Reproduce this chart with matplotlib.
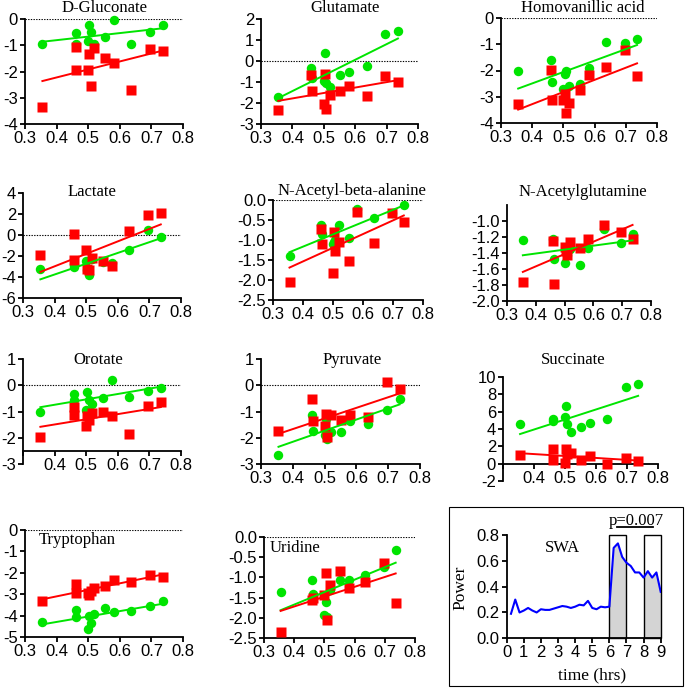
import numpy as np
import matplotlib
matplotlib.use('Agg')
import matplotlib.pyplot as plt
from matplotlib.patches import Rectangle

plt.rcParams['font.family'] = 'Liberation Sans'
plt.rcParams['axes.unicode_minus'] = False

W, H = 685, 688
GREEN = '#00e400'
RED = '#ff0000'
SERIF = 'Liberation Serif'

# x values shared by every metabolite panel
ratio = [0.355, 0.460, 0.462, 0.500, 0.504, 0.508, 0.519, 0.553, 0.581, 0.636, 0.696, 0.736]

glucon_green = [-0.95, -0.54, -0.97, -0.84, -0.23, -0.50, -0.95, -0.68, -0.04, -0.95, -0.50, -0.22]
glucon_red = [-3.36, -1.06, -1.95, -1.95, -1.34, -2.57, -1.09, -1.47, -1.66, -2.69, -1.16, -1.21]

glut_green = [-1.70, -0.35, -0.80, -0.95, 0.37, -1.06, -1.25, -0.68, -0.52, -0.22, 1.27, 1.44]
glut_red = [-2.33, -0.67, -1.43, -2.05, -0.62, -2.30, -1.62, -1.43, -1.17, -1.65, -0.71, -0.98]

homov_green = [-2.00, -1.59, -2.43, -2.69, -2.12, -2.00, -2.58, -2.51, -1.89, -0.90, -0.95, -0.80]
homov_red = [-3.29, -1.97, -3.14, -3.11, -2.90, -3.62, -3.24, -2.74, -2.17, -1.88, -1.21, -2.20]

lact_green = [-3.28, -3.09, -2.90, -2.46, -3.30, -3.80, -2.30, -2.55, -2.70, -1.42, 0.44, -0.22]
lact_red = [-1.95, 0.13, -2.39, -1.45, -3.28, -3.30, -2.18, -2.43, -2.93, 0.35, 1.86, 2.08]

naba_green = [-1.41, -0.62, -0.85, -1.10, -1.04, -1.00, -0.62, -0.96, -0.23, -0.46, -0.33, -0.125]
naba_red = [-2.05, -0.73, -1.10, -1.83, -0.79, -1.28, -1.04, -1.52, -0.29, -1.08, -0.33, -0.54]

nagl_green = [-1.24, -1.22, -1.48, -1.53, -1.38, -1.42, -1.35, -1.55, -1.34, -1.10, -1.27, -1.16]
nagl_red = [-1.76, -1.25, -1.79, -1.33, -1.37, -1.42, -1.26, -1.34, -1.23, -1.05, -1.14, -1.23]

orot_green = [-1.00, -0.34, -0.55, -0.94, -0.27, -0.56, -0.72, -0.49, 0.21, -0.43, -0.22, -0.10]
orot_red = [-1.99, -0.82, -1.15, -1.57, -1.19, -1.32, -1.05, -1.03, -1.18, -1.86, -0.78, -0.62]

pyr_green = [-2.67, -1.15, -1.75, -1.88, -1.30, -2.03, -1.78, -1.77, -1.37, -1.46, -0.93, -0.51]
pyr_red = [-1.76, -0.51, -1.37, -1.57, -1.08, -1.96, -1.15, -1.34, -1.15, -1.21, 0.13, -0.15]

succ_green = [4.53, 5.16, 4.90, 5.43, 6.70, 4.53, 3.68, 4.26, 4.65, 5.20, 8.80, 9.22]
succ_red = [0.97, 1.67, 0.39, 0.08, 1.74, 1.09, 1.24, 0.39, 0.89, -0.04, 0.70, 0.35]

tryp_green = [-4.32, -3.74, -4.08, -4.64, -4.00, -4.36, -3.94, -3.65, -3.85, -3.80, -3.54, -3.31]
tryp_red = [-3.34, -2.50, -2.95, -2.95, -3.03, -2.84, -2.69, -2.64, -2.33, -2.44, -2.11, -2.19]

urid_green = [-1.36, -1.07, -1.41, -1.94, -1.60, -1.97, -1.32, -1.07, -1.07, -0.93, -0.75, -0.31]
urid_red = [-2.34, -1.57, -1.50, -1.43, -0.89, -2.05, -1.20, -0.83, -1.26, -1.12, -0.65, -1.64]

# SWA power trace
swa_time = [0.25, 0.5, 0.75, 1.0, 1.25, 1.5, 1.75, 2.0, 2.25, 2.5, 2.75, 3.0,
             3.25, 3.5, 3.75, 4.0, 4.25, 4.5, 4.75, 5.0, 5.25, 5.5, 5.75, 6.0,
             6.25, 6.5, 6.75, 7.0, 7.25, 7.5, 7.75, 8.0, 8.25, 8.5, 8.75, 9.0]
swa_power = [0.19, 0.30, 0.20, 0.215, 0.235, 0.215, 0.20, 0.225, 0.22, 0.22, 0.23, 0.24,
             0.25, 0.245, 0.235, 0.245, 0.26, 0.255, 0.29, 0.235, 0.225, 0.245, 0.24, 0.245,
             0.70, 0.735, 0.63, 0.585, 0.56, 0.51, 0.51, 0.47, 0.52, 0.47, 0.51, 0.36]

fig = plt.figure(figsize=(W / 100, H / 100), dpi=100)


def box(l, t, r, b):
    return fig.add_axes([l / W, 1 - b / H, (r - l) / W, (b - t) / H])


def label(x, y, s, size=12, **kw):
    fig.text(x / W, 1 - y / H, s, ha='center', va='center', family=SERIF, fontsize=size, **kw)


def style(ax):
    for s in ('top', 'right'):
        ax.spines[s].set_visible(False)
    for s in ('left', 'bottom'):
        ax.spines[s].set_linewidth(1.3)
    ax.tick_params(direction='out', length=3.5, width=1.3, labelsize=12, pad=1.5)


def panel(rect, green, red, ylim, yticks, title, title_xy, xaxis_at=None, zero=True):
    ax = box(*rect)
    style(ax)
    if zero:
        ax.axhline(0, color='k', lw=0.8, ls=(0, (1.2, 1.2)), zorder=1)
    ax.plot(ratio, green, 'o', color=GREEN, ms=6.8, mec='none', zorder=3, clip_on=False)
    ax.plot(ratio, red, 's', color=RED, ms=6.6, mec='none', zorder=4, clip_on=False)
    xs = np.array([min(ratio), max(ratio)])
    for vals, c in ((green, GREEN), (red, RED)):
        k, b = np.polyfit(ratio, vals, 1)
        ax.plot(xs, k * xs + b, color=c, lw=1.4, zorder=5)
    ax.set_xlim(0.3, 0.8)
    ax.set_ylim(*ylim)
    ax.set_yticks(yticks)
    ax.set_xticks([0.3, 0.4, 0.5, 0.6, 0.7, 0.8])
    if xaxis_at is not None:
        ax.spines['bottom'].set_position(('data', xaxis_at))
        ax.set_xticklabels(['', '0.4', '0.5', '0.6', '0.7', '0.8'])
    label(*title_xy, title)
    return ax


panel((25, 19, 183, 124), glucon_green, glucon_red, (-4, 0), range(-4, 1), 'D-Gluconate', (105, 8))
panel((261, 19, 418, 124), glut_green, glut_red, (-3, 2), range(-3, 3), 'Glutamate', (345, 8))
panel((501, 18, 657, 123), homov_green, homov_red, (-4, 0), range(-4, 1), 'Homovanillic acid', (583, 8))

panel((23, 193, 181, 298), lact_green, lact_red, (-6, 4), range(-6, 5, 2), 'Lactate', (92, 192))
panel((273, 200, 423, 300), naba_green, naba_red, (-2.5, 0), np.arange(-2.5, 0.01, 0.5),
      'N-Acetyl-beta-alanine', (352, 191))
panel((507, 205, 651, 301), nagl_green, nagl_red, (-2.0, -0.8), np.arange(-2.0, -0.99, 0.2),
      'N-Acetylglutamine', (583, 192), zero=False)

panel((23, 359, 181, 464), orot_green, orot_red, (-3, 1), range(-3, 2), 'Orotate', (98, 360), xaxis_at=-2.5)
panel((261, 359, 420, 464), pyr_green, pyr_red, (-3, 1), range(-3, 2), 'Pyruvate', (352, 360))
panel((503, 377, 658, 481), succ_green, succ_red, (-2, 10), range(-2, 11, 2), 'Succinate', (573, 360),
      xaxis_at=0, zero=False)

panel((25, 530, 183, 637), tryp_green, tryp_red, (-5, 0), range(-5, 1), 'Tryptophan', (77, 540))
panel((264, 537, 415, 638), urid_green, urid_red, (-2.5, 0), np.arange(-2.5, 0.01, 0.5), 'Uridine', (295, 548))

# SWA panel
ax = box(506.7, 535, 660.7, 638.3)
style(ax)
t = np.array(swa_time)
p = np.array(swa_power)
ax.fill_between(t, p, where=(t >= 6) & (t <= 7), color='#d4d4d4', lw=0)
ax.fill_between(t, p, where=(t >= 8) & (t <= 9), color='#d4d4d4', lw=0)
for x0 in (6, 8):
    ax.add_patch(Rectangle((x0, 0), 1, 0.8, fill=False, ec='k', lw=1.0, clip_on=False, zorder=4))
ax.plot(t, p, color='#0000ff', lw=1.5, zorder=5)
ax.plot([6.43, 8.57], [0.862, 0.862], color='k', lw=1.3, clip_on=False)
ax.text(7.55, 0.875, 'p=0.007', ha='center', va='baseline', family=SERIF, fontsize=12)
ax.set_xlim(0, 9)
ax.set_ylim(0, 0.8)
ax.set_xticks(range(10))
ax.set_yticks([0.0, 0.2, 0.4, 0.6, 0.8])
ax.set_yticklabels(['0.0', '0.2', '0.4', '0.6', '0.8'])
label(562, 548, 'SWA')
label(460, 588, 'Power', size=12.5, rotation=90)
label(592, 675, 'time (hrs)', size=12.5)

fig.add_artist(Rectangle((449 / W, 1 - 686 / H), (683 - 449) / W, (686 - 507) / H,
                         transform=fig.transFigure, fill=False, ec='k', lw=0.8))

fig.savefig('out.png', dpi=100)
